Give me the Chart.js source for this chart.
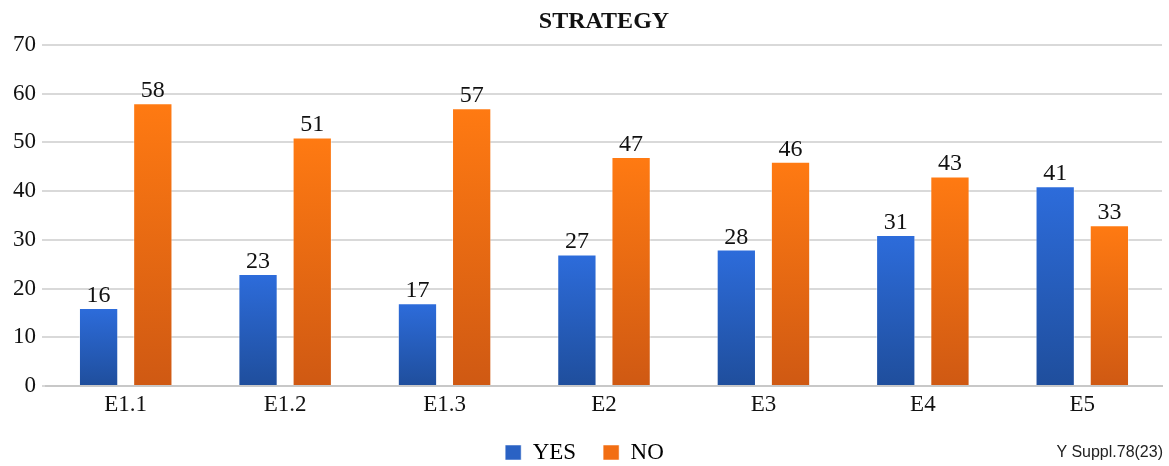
<!DOCTYPE html>
<html>
<head>
<meta charset="utf-8">
<script src="https://cdn.jsdelivr.net/npm/chart.js@4/dist/chart.umd.min.js"></script>
<style>
  html, body { margin: 0; padding: 0; background: #fff; }
  #wrap { position: relative; width: 1169px; height: 466px; }
  #note {
    position: absolute; right: 6px; top: 443px; line-height: 18px;
    font-family: "Liberation Sans", Arial, sans-serif; font-size: 16px; color: #222;
  }
</style>
</head>
<body>
<div id="wrap">
  <canvas id="chart" width="1169" height="466"></canvas>
  <div id="note">Y Suppl.78(23)</div>
</div>
<script>
// Strategy survey: YES / NO counts per item
const categories = ['E1.1', 'E1.2', 'E1.3', 'E2', 'E3', 'E4', 'E5'];
const yesValues = [16, 23, 17, 27, 28, 31, 41];
const noValues = [58, 51, 57, 47, 46, 43, 33];
const yTicks = [0, 10, 20, 30, 40, 50, 60, 70];

const serif = '"Liberation Serif", "Times New Roman", serif';

// vertical gradient running from each bar's top down to the baseline
function barGradient(top, bottom) {
    return (context) => {
        const chart = context.chart;
        const y = chart.scales.y;
        if (!chart.chartArea || !y || context.raw == null) return top;
        const y0 = y.getPixelForValue(context.raw);
        const y1 = y.getPixelForValue(0);
        const g = chart.ctx.createLinearGradient(0, y0, 0, y1);
        g.addColorStop(0, top);
        g.addColorStop(1, bottom);
        return g;
    };
}

// value printed above each bar
const valueLabels = {
    id: 'valueLabels',
    afterDatasetsDraw(chart) {
        const ctx = chart.ctx;
        ctx.save();
        ctx.font = '24px ' + serif;
        ctx.fillStyle = '#111';
        ctx.textAlign = 'center';
        ctx.textBaseline = 'alphabetic';
        chart.data.datasets.forEach((ds, i) => {
            chart.getDatasetMeta(i).data.forEach((bar, j) => {
                ctx.fillText(ds.data[j], bar.x, bar.y - 6);
            });
        });
        ctx.restore();
    }
};

// keep the title centred over the plot rather than the whole canvas
const centerTitle = {
    id: 'centerTitle',
    afterLayout(chart) {
        const t = chart.titleBlock;
        if (t && chart.chartArea) {
            t.left = chart.chartArea.left;
            t.right = chart.chartArea.right;
        }
    }
};

new Chart(document.getElementById('chart'), {
    type: 'bar',
    data: {
        labels: categories,
        datasets: [{
            label: 'YES',
            data: yesValues,
            backgroundColor: barGradient('#2d6cdb', '#1f4e9c'),
            borderColor: 'rgba(255,255,255,0.45)',
            borderWidth: 1,
            barPercentage: 0.725,
            categoryPercentage: 0.68
        }, {
            label: 'NO',
            data: noValues,
            backgroundColor: barGradient('#ff7a12', '#cf5913'),
            borderColor: 'rgba(255,255,255,0.45)',
            borderWidth: 1,
            barPercentage: 0.725,
            categoryPercentage: 0.68
        }]
    },
    options: {
        responsive: false,
        animation: false,
        layout: { padding: { left: 7, right: 7, top: 0, bottom: 0 } },
        plugins: {
            title: {
                display: true,
                text: 'STRATEGY',
                color: '#111',
                font: { family: serif, size: 24, weight: 'bold' },
                padding: { top: 7, bottom: 9 }
            },
            legend: {
                position: 'bottom',
                maxHeight: 52,
                labels: {
                    color: '#111',
                    font: { family: serif, size: 23 },
                    boxWidth: 16,
                    boxHeight: 15,
                    padding: 27,
                    generateLabels(chart) {
                        const fills = ['#2a62c4', '#f26e12'];
                        return chart.data.datasets.map((ds, i) => ({
                            text: ds.label,
                            fillStyle: fills[i],
                            strokeStyle: 'rgba(255,255,255,0.5)',
                            lineWidth: 1,
                            datasetIndex: i
                        }));
                    }
                }
            },
            tooltip: { enabled: false }
        },
        scales: {
            x: {
                grid: { display: false, drawTicks: false },
                border: { color: '#c8c8c8', width: 2 },
                ticks: { color: '#111', font: { family: serif, size: 23 }, padding: 5 },
                afterFit(axis) { axis.height = 28; }
            },
            y: {
                min: 0,
                max: 70,
                afterBuildTicks(axis) {
                    axis.ticks = yTicks.map(v => ({ value: v }));
                },
                grid: { color: '#d9d9d9', lineWidth: 2, tickLength: 4 },
                border: { display: false },
                ticks: { color: '#111', font: { family: serif, size: 23 }, padding: 6 }
            }
        }
    },
    plugins: [valueLabels, centerTitle]
});
</script>
</body>
</html>
